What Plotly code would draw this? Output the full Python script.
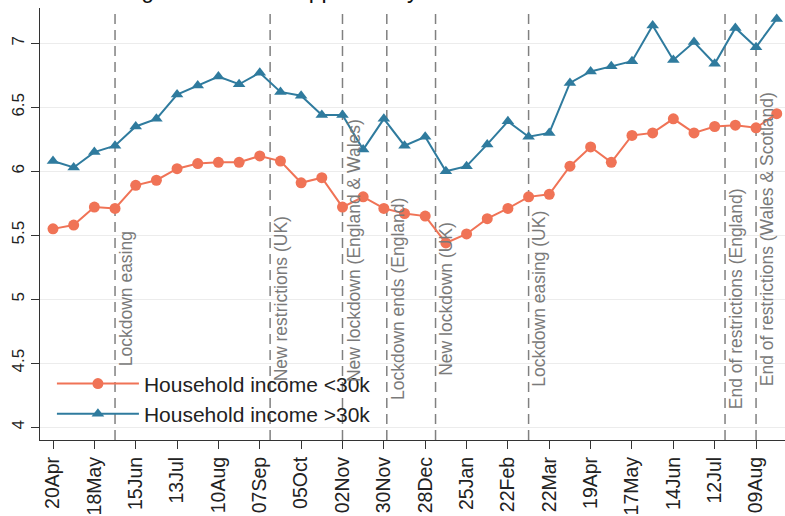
import datetime as dt
import plotly.graph_objects as go

# Fortnightly survey waves, 20 Apr 2020 to 23 Aug 2021
start = dt.date(2020, 4, 20)
dates = [start + dt.timedelta(days=14 * i) for i in range(36)]

income_below_30k = [5.55, 5.58, 5.72, 5.71, 5.89, 5.93, 6.02, 6.06, 6.07, 6.07,
                    6.12, 6.08, 5.91, 5.95, 5.72, 5.80, 5.71, 5.67, 5.65, 5.44,
                    5.51, 5.63, 5.71, 5.80, 5.82, 6.04, 6.19, 6.07, 6.28, 6.30,
                    6.41, 6.30, 6.35, 6.36, 6.34, 6.45]

income_above_30k = [6.08, 6.03, 6.15, 6.20, 6.35, 6.41, 6.60, 6.67, 6.74, 6.68,
                    6.77, 6.62, 6.59, 6.44, 6.44, 6.17, 6.41, 6.20, 6.27, 6.00,
                    6.04, 6.21, 6.39, 6.27, 6.30, 6.69, 6.78, 6.82, 6.86, 7.14,
                    6.87, 7.01, 6.84, 7.12, 6.97, 7.19]

# Tick marks every four weeks
tick_dates = [start + dt.timedelta(days=28 * i) for i in range(18)]
tick_labels = ["20Apr", "18May", "15Jun", "13Jul", "10Aug", "07Sep", "05Oct",
               "02Nov", "30Nov", "28Dec", "25Jan", "22Feb", "22Mar", "19Apr",
               "17May", "14Jun", "12Jul", "09Aug"]

# Policy events
event_dates = [dt.date(2020, 6, 1), dt.date(2020, 9, 14), dt.date(2020, 11, 2),
               dt.date(2020, 12, 2), dt.date(2021, 1, 4), dt.date(2021, 3, 8),
               dt.date(2021, 7, 19), dt.date(2021, 8, 9)]
event_labels = ["Lockdown easing", "New restrictions (UK)",
                "New lockdown (England & Wales)", "Lockdown ends (England)",
                "New lockdown (UK)", "Lockdown easing (UK)",
                "End of restrictions (England)",
                "End of restrictions (Wales & Scotland)"]
event_label_y = [5.0, 5.0, 5.38, 5.0, 5.0, 5.0, 5.0, 5.47]

ORANGE = "#F07356"
BLUE = "#2F7B9E"
FONT = "Liberation Sans, Arial, sans-serif"

fig = go.Figure()
fig.add_trace(go.Scatter(
    x=dates, y=income_below_30k, mode="lines+markers",
    name="Household income <30k", legendgroup="a",
    line=dict(color=ORANGE, width=2),
    marker=dict(symbol="circle", size=11, color=ORANGE),
))
fig.add_trace(go.Scatter(
    x=dates, y=income_above_30k, mode="lines+markers",
    name="Household income >30k", legendgroup="b",
    line=dict(color=BLUE, width=2),
    marker=dict(symbol="triangle-up", size=11, color=BLUE),
))

for d, label, ly in zip(event_dates, event_labels, event_label_y):
    fig.add_shape(type="line", xref="x", yref="paper", x0=d, x1=d, y0=0, y1=1,
                  line=dict(color="#808080", width=1.5, dash="10px,6px"),
                  layer="below")
    fig.add_annotation(x=d, y=ly, xref="x", yref="y", text=label,
                       textangle=-90, showarrow=False, xanchor="left",
                       yanchor="middle", xshift=-1,
                       font=dict(family=FONT, size=17.5, color="#7a7a7a"))

fig.add_annotation(
    text="Figure 5: Mean happiness by household income over time",
    xref="paper", yref="paper", x=0.507, y=1, xanchor="center",
    yanchor="bottom", yshift=3, showarrow=False,
    font=dict(family=FONT, size=23, color="#111111"),
)

x_lo = dt.datetime(2020, 4, 20) - dt.timedelta(days=8.8)
x_hi = dt.datetime(2021, 8, 23) + dt.timedelta(days=5.6)

fig.update_layout(
    width=785, height=516,
    margin=dict(l=40, r=0, t=8, b=76),
    paper_bgcolor="white", plot_bgcolor="white",
    font=dict(family=FONT, color="#222222"),
    showlegend=True,
    legend=dict(x=0.016, y=0.013, xanchor="left", yanchor="bottom",
                bgcolor="rgba(0,0,0,0)", itemwidth=82,
                tracegroupgap=0,
                font=dict(family=FONT, size=21, color="#222222")),
    xaxis=dict(type="date", range=[x_lo, x_hi],
               tickvals=tick_dates, ticktext=tick_labels, tickangle=-90,
               ticks="outside", ticklen=8, tickcolor="#333333",
               showline=True, linecolor="#333333", linewidth=1.2,
               showgrid=False, zeroline=False,
               tickfont=dict(family=FONT, size=19.5, color="#222222")),
    yaxis=dict(range=[3.9, 7.276], tickvals=[4, 4.5, 5, 5.5, 6, 6.5, 7],
               ticktext=["4", "4.5", "5", "5.5", "6", "6.5", "7"],
               tickangle=-90, ticks="outside", ticklen=8, tickcolor="#333333",
               showline=True, linecolor="#333333", linewidth=1.2,
               showgrid=True, gridcolor="#ececec", gridwidth=1,
               zeroline=False,
               tickfont=dict(family=FONT, size=17, color="#222222")),
)

fig.write_html("out.html")
